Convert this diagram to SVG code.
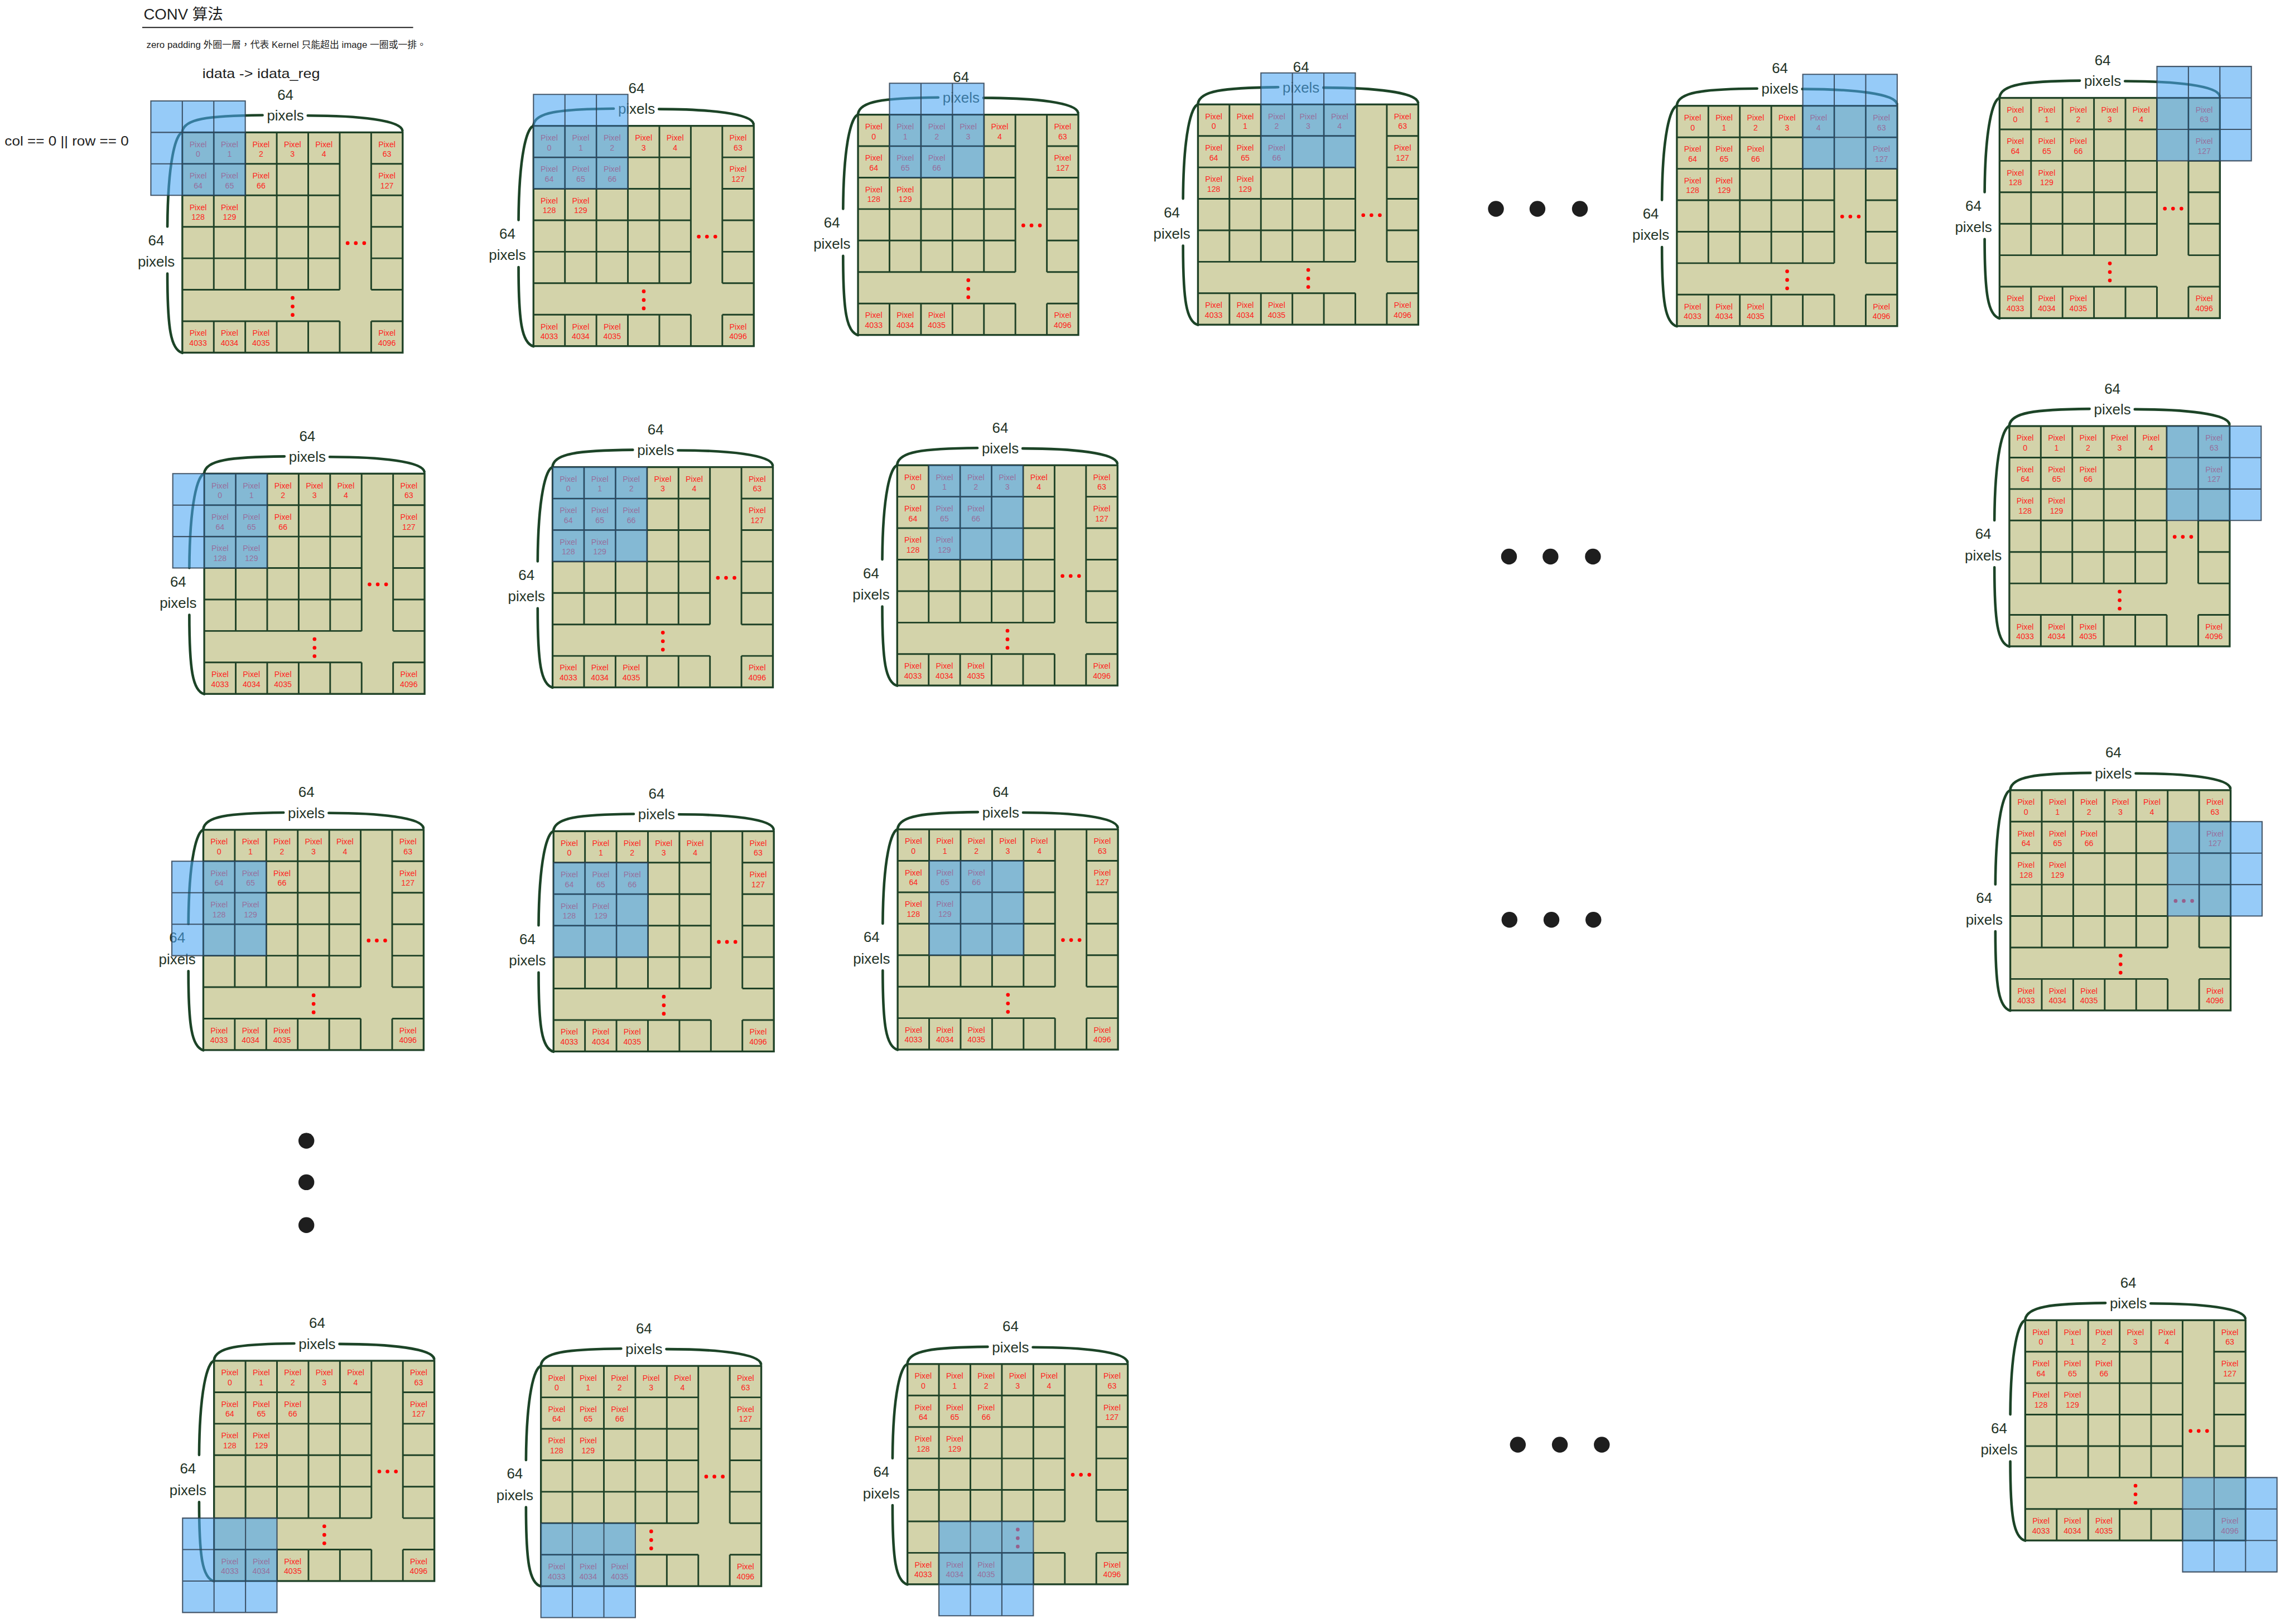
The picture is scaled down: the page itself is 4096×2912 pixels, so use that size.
<svg xmlns="http://www.w3.org/2000/svg" width="4096" height="2912" viewBox="0 0 4096 2912">
<defs>
<style>
.bg{fill:#d3d3aa;stroke:#1f4227;stroke-width:4}
.ln{fill:none;stroke:#1f4227;stroke-width:3.5}
.px{font-family:"Liberation Sans",Arial,sans-serif;font-size:17px;fill:#ff1f1f;text-anchor:middle}
.rd{fill:#ff0000}
.br{fill:none;stroke:#1c4427;stroke-width:5.5;stroke-linecap:round}
.lb{font-family:"Liberation Sans",Arial,sans-serif;font-size:31px;fill:#1f3326;text-anchor:middle}
.kf{fill:#4aa5f3;fill-opacity:.58}
.kl{fill:none;stroke:#2d3e50;stroke-width:2.5;stroke-opacity:.85}
.dot{fill:#1e1e1e}
.hw{font-family:"Liberation Sans","Noto Sans CJK TC",sans-serif;fill:#1e1e1e}
</style>
<g id="grid">
<rect class="bg" x="0" y="0" width="472.5" height="472.5"/>
<path class="ln" d="M67.5 0V337.5M67.5 405V472.5M135 0V337.5M135 405V472.5M202.5 0V337.5M202.5 405V472.5M270 0V337.5M270 405V472.5M337.5 0V337.5M337.5 405V472.5M405 0V337.5M405 405V472.5M0 67.5H337.5M405 67.5H472.5M0 135H337.5M405 135H472.5M0 202.5H337.5M405 202.5H472.5M0 270H337.5M405 270H472.5M0 337.5H337.5M405 337.5H472.5M0 405H337.5M405 405H472.5"/>
<text class="px" x="33.75" y="31.5">Pixel<tspan x="33.75" y="52.5">0</tspan></text>
<text class="px" x="101.25" y="31.5">Pixel<tspan x="101.25" y="52.5">1</tspan></text>
<text class="px" x="168.75" y="31.5">Pixel<tspan x="168.75" y="52.5">2</tspan></text>
<text class="px" x="236.25" y="31.5">Pixel<tspan x="236.25" y="52.5">3</tspan></text>
<text class="px" x="303.75" y="31.5">Pixel<tspan x="303.75" y="52.5">4</tspan></text>
<text class="px" x="438.75" y="31.5">Pixel<tspan x="438.75" y="52.5">63</tspan></text>
<text class="px" x="33.75" y="99">Pixel<tspan x="33.75" y="120">64</tspan></text>
<text class="px" x="101.25" y="99">Pixel<tspan x="101.25" y="120">65</tspan></text>
<text class="px" x="168.75" y="99">Pixel<tspan x="168.75" y="120">66</tspan></text>
<text class="px" x="438.75" y="99">Pixel<tspan x="438.75" y="120">127</tspan></text>
<text class="px" x="33.75" y="166.5">Pixel<tspan x="33.75" y="187.5">128</tspan></text>
<text class="px" x="101.25" y="166.5">Pixel<tspan x="101.25" y="187.5">129</tspan></text>
<text class="px" x="33.75" y="436.5">Pixel<tspan x="33.75" y="457.5">4033</tspan></text>
<text class="px" x="101.25" y="436.5">Pixel<tspan x="101.25" y="457.5">4034</tspan></text>
<text class="px" x="168.75" y="436.5">Pixel<tspan x="168.75" y="457.5">4035</tspan></text>
<text class="px" x="438.75" y="436.5">Pixel<tspan x="438.75" y="457.5">4096</tspan></text>
<circle class="rd" cx="354.5" cy="237.5" r="4"/>
<circle class="rd" cx="372" cy="237.5" r="4"/>
<circle class="rd" cx="390" cy="237.5" r="4"/>
<circle class="rd" cx="236.5" cy="355" r="4"/>
<circle class="rd" cx="236.5" cy="373.5" r="4"/>
<circle class="rd" cx="236.5" cy="391.5" r="4"/>
<path class="br" d="M0 -2C4 -28 50 -36 172 -37"/>
<path class="br" d="M269 -36C380 -36 468 -26 472 -4"/>
<path class="br" d="M0 0C-14 4 -31 60 -32 202"/>
<path class="br" d="M-32 303C-32 420 -25 466 0 473"/>
<text class="lb" x="221" y="-70">64</text>
<text class="lb" x="221" y="-25.5">pixels</text>
<text class="lb" x="-56" y="242">64</text>
<text class="lb" x="-56" y="288">pixels</text>
</g>
<g id="k">
<rect class="kf" x="0" y="0" width="202.5" height="202.5"/>
<path class="kl" d="M0 0H202.5V202.5H0ZM67.5 0V202.5M135 0V202.5M0 67.5H202.5M0 135H202.5"/>
</g>
</defs>
<rect width="4096" height="2912" fill="#ffffff"/>
<g transform="scale(0.8359)">
<g id="header">
<text class="hw" x="308" y="42" font-size="33">CONV 算法</text>
<line x1="305" y1="59" x2="886" y2="59" stroke="#1e1e1e" stroke-width="2.5"/>
<text class="hw" x="314" y="103" font-size="20" textLength="600" lengthAdjust="spacingAndGlyphs">zero padding 外圈一層，代表 Kernel 只能超出 image 一圈或一排。</text>
<text class="hw" x="434" y="167" font-size="28" textLength="252" lengthAdjust="spacingAndGlyphs">idata -&gt; idata_reg</text>
<text class="hw" x="10" y="312" font-size="28" textLength="266" lengthAdjust="spacingAndGlyphs">col == 0 || row == 0</text>
</g>
<g id="n1" transform="translate(391 284)"><use href="#grid"/><use href="#k" x="-67.5" y="-67.5"/></g>
<g id="n2" transform="translate(1144 270)"><use href="#grid"/><use href="#k" x="0" y="-67.5"/></g>
<g id="n3" transform="translate(1840 246)"><use href="#grid"/><use href="#k" x="67.5" y="-67.5"/></g>
<g id="n4" transform="translate(2569 224)"><use href="#grid"/><use href="#k" x="135" y="-67.5"/></g>
<g id="n5" transform="translate(3596 227)"><use href="#grid"/><use href="#k" x="270" y="-67.5"/></g>
<g id="n6" transform="translate(4288 210)"><use href="#grid"/><use href="#k" x="337.5" y="-67.5"/></g>
<g id="n7" transform="translate(438 1016)"><use href="#grid"/><use href="#k" x="-67.5" y="0"/></g>
<g id="n8" transform="translate(1185 1002)"><use href="#grid"/><use href="#k" x="0" y="0"/></g>
<g id="n9" transform="translate(1924 998)"><use href="#grid"/><use href="#k" x="67.5" y="0"/></g>
<g id="n10" transform="translate(4309 914)"><use href="#grid"/><use href="#k" x="337.5" y="0"/></g>
<g id="n11" transform="translate(436 1780)"><use href="#grid"/><use href="#k" x="-67.5" y="67.5"/></g>
<g id="n12" transform="translate(1187 1783)"><use href="#grid"/><use href="#k" x="0" y="67.5"/></g>
<g id="n13" transform="translate(1925 1779)"><use href="#grid"/><use href="#k" x="67.5" y="67.5"/></g>
<g id="n14" transform="translate(4311 1695)"><use href="#grid"/><use href="#k" x="337.5" y="67.5"/></g>
<g id="n15" transform="translate(459 2919)"><use href="#grid"/><use href="#k" x="-67.5" y="337.5"/></g>
<g id="n16" transform="translate(1160 2930)"><use href="#grid"/><use href="#k" x="0" y="337.5"/></g>
<g id="n17" transform="translate(1946 2926)"><use href="#grid"/><use href="#k" x="67.5" y="337.5"/></g>
<g id="n18" transform="translate(4343 2832)"><use href="#grid"/><use href="#k" x="337.5" y="337.5"/></g>
<g id="ellipses">
<circle class="dot" cx="3208" cy="448" r="17"/><circle class="dot" cx="3297" cy="448" r="17"/><circle class="dot" cx="3388" cy="448" r="17"/>
<circle class="dot" cx="3236" cy="1194" r="17"/><circle class="dot" cx="3325" cy="1194" r="17"/><circle class="dot" cx="3416" cy="1194" r="17"/>
<circle class="dot" cx="3237" cy="1973" r="17"/><circle class="dot" cx="3327" cy="1973" r="17"/><circle class="dot" cx="3417" cy="1973" r="17"/>
<circle class="dot" cx="3255" cy="3099" r="17"/><circle class="dot" cx="3345" cy="3099" r="17"/><circle class="dot" cx="3435" cy="3099" r="17"/>
<circle class="dot" cx="657" cy="2447" r="17"/><circle class="dot" cx="657" cy="2536" r="17"/><circle class="dot" cx="657" cy="2628" r="17"/>
</g>
</g>
</svg>
